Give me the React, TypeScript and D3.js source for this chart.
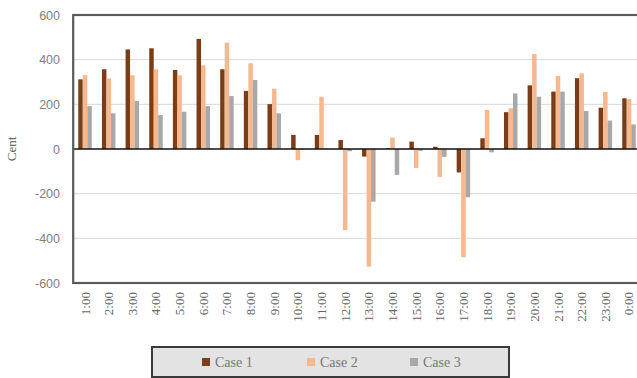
import React from "react";
import * as d3 from "d3";

const hours = [
  "1:00", "2:00", "3:00", "4:00", "5:00", "6:00", "7:00", "8:00", "9:00", "10:00", "11:00", "12:00",
  "13:00", "14:00", "15:00", "16:00", "17:00", "18:00", "19:00", "20:00", "21:00", "22:00", "23:00", "0:00",
];
const case1 = [312, 357, 446, 451, 354, 493, 357, 260, 201, 63, 63, 40, -34, 3, 33, 10, -105, 48, 165, 285, 257, 317, 185, 227];
const case2 = [330, 316, 330, 357, 330, 375, 476, 384, 270, -50, 234, -363, -527, 51, -85, -125, -485, 175, 182, 425, 327, 339, 255, 224];
const case3 = [192, 160, 215, 152, 167, 192, 237, 309, 160, -3, 2, -10, -236, -116, -8, -35, -216, -15, 249, 234, 257, 170, 127, 110];
const seriesNames = ["Case 1", "Case 2", "Case 3"];
const yTicks = [600, 400, 200, 0, -200, -400, -600];

const colors = ["#7a3d17", "#f6b88e", "#a8a8a8"];

export default function App() {
  const W = 637;
  const H = 378;
  const left = 73.2;
  const right = 640.8;
  const top = 15;
  const bottom = 283;

  const x = d3.scaleBand<string>().domain(hours).range([left, right]).paddingInner(0).paddingOuter(0);
  const y = d3.scaleLinear().domain([-600, 600]).range([bottom, top]);
  const series = [case1, case2, case3];
  const barW = 4.5;
  const groupW = barW * 3;

  return (
    <svg width={W} height={H} style={{ position: "absolute", left: 0, top: 0, background: "#fff" }}>
      {/* gridlines */}
      {yTicks.filter((t) => t !== 0 && Math.abs(t) !== 600).map((t) => (
        <line key={t} x1={left} x2={right} y1={y(t)} y2={y(t)} stroke="#d9d9d9" strokeWidth={1} />
      ))}
      {/* y tick labels */}
      {yTicks.map((t) => (
        <text key={t} x={60} y={y(t) + 4.5} textAnchor="end" fontFamily="Liberation Sans, Arial, sans-serif" fontSize={12.5} fill="#808080">
          {t}
        </text>
      ))}
      <text
        transform={`translate(16,${y(0)}) rotate(-90)`}
        textAnchor="middle"
        fontFamily="Liberation Serif, serif"
        fontSize={13}
        fill="#555"
      >
        Cent
      </text>
      {/* bars */}
      {series.map((vals, si) =>
        vals.map((v, i) => {
          const cx = (x(hours[i]) as number) + x.bandwidth() / 2;
          const bx = cx - groupW / 2 + si * barW;
          const y0 = y(0);
          const yv = y(v);
          return (
            <rect
              key={`${si}-${i}`}
              x={bx}
              y={Math.min(y0, yv)}
              width={barW}
              height={Math.abs(yv - y0)}
              fill={colors[si]}
            />
          );
        })
      )}
      {/* zero line */}
      <line x1={left} x2={right} y1={y(0)} y2={y(0)} stroke="#111" strokeWidth={1.5} />
      {/* frame */}
      <rect x={left} y={top} width={right - left} height={bottom - top} fill="none" stroke="#5a5a5a" strokeWidth={2.2} />
      {/* x tick labels */}
      {hours.map((h) => {
        const cx = (x(h) as number) + x.bandwidth() / 2;
        return (
          <text
            key={h}
            transform={`translate(${cx + 4.5},${292}) rotate(-90)`}
            textAnchor="end"
            fontFamily="Liberation Serif, serif"
            fontSize={13}
            fill="#666"
          >
            {h}
          </text>
        );
      })}
      {/* legend */}
      <rect x={152} y={347} width={357} height={30} fill="#e3e3e3" stroke="#3a3a3a" strokeWidth={2} />
      {seriesNames.map((n, i) => {
        const lx = [202, 307, 410][i];
        return (
          <g key={n}>
            <rect x={lx} y={358} width={8} height={8} fill={colors[i]} />
            <text x={lx + 13} y={367} fontFamily="Liberation Serif, serif" fontSize={14} fill="#777">
              {n}
            </text>
          </g>
        );
      })}
    </svg>
  );
}
